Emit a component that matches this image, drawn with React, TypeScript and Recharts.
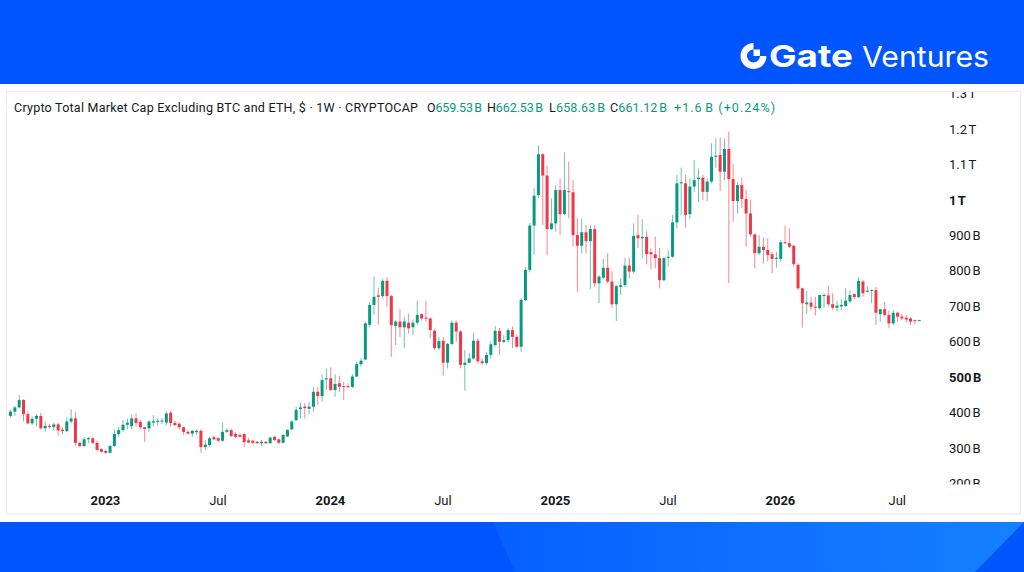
import React from 'react';
import { ComposedChart, Bar, XAxis, YAxis } from 'recharts';

// weekly candles, values in billions of USD
const opens = [
  391, 403, 415, 436, 396, 370, 383, 391, 356, 363, 360, 367, 352, 348, 375, 384, 315, 306, 325, 328,
  315, 297, 292, 287, 306, 340, 351, 366, 362, 384, 374, 359, 356, 372, 374, 376, 372, 400, 371, 369,
  359, 346, 341, 345, 349, 303, 309, 331, 328, 321, 346, 351, 340, 337, 340, 322, 321, 318, 314, 318,
  314, 332, 325, 315, 333, 353, 379, 410, 417, 411, 417, 459, 447, 494, 497, 464, 483, 475, 475, 473,
  502, 537, 550, 648, 704, 731, 729, 772, 729, 645, 657, 641, 654, 641, 654, 678, 668, 666, 631, 582,
  603, 541, 594, 654, 629, 535, 541, 553, 603, 545, 540, 563, 591, 631, 600, 605, 633, 614, 586, 718,
  803, 928, 1014, 1129, 1069, 918, 934, 1028, 960, 1025, 1022, 901, 871, 909, 884, 918, 765, 781, 809, 770,
  706, 755, 760, 815, 798, 901, 892, 896, 853, 847, 836, 774, 837, 840, 937, 1047, 1047, 960, 1038, 1059,
  1063, 1023, 1052, 1122, 1127, 1080, 1144, 1059, 997, 1042, 1003, 962, 903, 850, 868, 859, 847, 834, 834, 881,
  878, 871, 817, 751, 706, 711, 699, 695, 731, 731, 706, 696, 700, 701, 714, 735, 726, 770, 741, 744,
  746, 678, 692, 676, 652, 682, 671, 668, 666, 661, 659.53,
];
const highs = [
  408, 419, 450, 438, 403, 389, 396, 400, 375, 368, 372, 372, 360, 387, 410, 403, 318, 331, 332, 331,
  321, 300, 297, 309, 353, 360, 379, 384, 396, 398, 381, 360, 379, 393, 384, 384, 403, 406, 377, 372,
  360, 351, 351, 353, 353, 323, 332, 334, 332, 372, 356, 354, 346, 342, 342, 329, 323, 320, 323, 320,
  332, 334, 327, 340, 354, 379, 417, 428, 427, 431, 472, 472, 509, 525, 528, 509, 504, 487, 483, 509,
  544, 554, 657, 713, 784, 752, 777, 783, 732, 661, 693, 671, 679, 663, 716, 680, 716, 669, 635, 614,
  614, 597, 660, 660, 633, 577, 568, 626, 610, 553, 572, 602, 645, 639, 619, 638, 643, 621, 723, 812,
  935, 1033, 1155, 1132, 1097, 1005, 1042, 1061, 1135, 1108, 1056, 948, 948, 929, 929, 929, 788, 834, 850, 800,
  760, 779, 837, 837, 934, 958, 946, 913, 864, 897, 865, 840, 859, 958, 1071, 1091, 1071, 1061, 1113, 1089,
  1071, 1061, 1160, 1174, 1176, 1174, 1193, 1101, 1050, 1063, 1028, 1000, 906, 901, 894, 892, 854, 854, 887, 928,
  920, 873, 821, 753, 743, 727, 727, 733, 737, 758, 737, 716, 720, 751, 744, 737, 782, 774, 757, 748,
  755, 693, 713, 688, 690, 685, 679, 676, 669, 663, 662.53,
];
const lows = [
  387, 391, 412, 375, 368, 365, 361, 353, 346, 355, 351, 335, 340, 345, 370, 306, 302, 304, 314, 312,
  290, 287, 284, 285, 304, 332, 346, 353, 353, 361, 353, 318, 346, 361, 363, 368, 365, 361, 363, 353,
  337, 339, 332, 337, 287, 295, 304, 323, 318, 318, 342, 331, 328, 331, 303, 314, 312, 312, 306, 312,
  312, 320, 312, 314, 332, 351, 377, 384, 384, 396, 403, 422, 431, 464, 462, 445, 459, 436, 469, 470,
  500, 530, 549, 641, 676, 648, 724, 699, 558, 591, 614, 582, 624, 619, 647, 660, 657, 610, 577, 577,
  504, 525, 591, 600, 525, 462, 539, 551, 537, 535, 535, 553, 586, 563, 596, 599, 582, 582, 572, 715,
  796, 845, 1005, 930, 845, 915, 911, 901, 958, 948, 868, 741, 850, 850, 749, 755, 709, 777, 765, 696,
  659, 732, 755, 779, 793, 864, 836, 819, 805, 807, 751, 770, 812, 837, 920, 958, 922, 946, 1023, 994,
  1000, 997, 1047, 1091, 1025, 1056, 765, 939, 962, 977, 868, 897, 807, 845, 821, 826, 793, 809, 826, 876,
  865, 812, 746, 640, 678, 690, 674, 690, 695, 699, 690, 685, 690, 699, 709, 720, 723, 727, 739, 709,
  647, 657, 671, 638, 647, 657, 661, 654, 647, 650, 658.63,
];
const closes = [
  403, 415, 436, 396, 370, 383, 391, 356, 363, 360, 367, 350, 348, 375, 384, 315, 306, 325, 328, 315,
  295, 290, 287, 306, 340, 351, 366, 372, 384, 371, 359, 354, 375, 376, 377, 378, 398, 371, 365, 359,
  346, 341, 349, 349, 303, 310, 328, 325, 321, 346, 351, 334, 332, 332, 317, 316, 315, 314, 318, 314,
  330, 323, 315, 337, 351, 375, 408, 415, 413, 417, 459, 447, 492, 497, 464, 481, 473, 473, 473, 502,
  537, 547, 652, 704, 727, 727, 772, 729, 647, 657, 641, 657, 638, 654, 676, 666, 666, 633, 582, 602,
  541, 594, 654, 629, 535, 541, 553, 603, 545, 540, 563, 593, 631, 600, 605, 633, 614, 586, 718, 803,
  928, 1012, 1129, 1069, 918, 934, 1028, 960, 1028, 1022, 901, 871, 909, 884, 918, 765, 784, 809, 770, 706,
  757, 760, 815, 798, 899, 892, 896, 847, 847, 836, 774, 836, 840, 937, 1047, 1050, 958, 1038, 1056, 1063,
  1023, 1052, 1122, 1125, 1080, 1144, 1059, 997, 1042, 1003, 962, 903, 850, 868, 859, 845, 834, 837, 881, 878,
  868, 819, 751, 709, 711, 699, 696, 732, 732, 706, 696, 702, 704, 716, 732, 726, 772, 737, 744, 746,
  682, 692, 676, 652, 682, 671, 666, 663, 657, 659.53, 661.12,
];

const xTickWeeks = [22, 48, 74, 100, 126, 152, 178, 205];
const xTickLabels = ['2023', 'Jul', '2024', 'Jul', '2025', 'Jul', '2026', 'Jul'];

const yTicks = [200, 300, 400, 500, 600, 700, 800, 900, 1000, 1100, 1200, 1300];
const yTickLabels = [
  '200\u202FB', '300\u202FB', '400\u202FB', '500\u202FB', '600\u202FB', '700\u202FB',
  '800\u202FB', '900\u202FB', '1\u202FT', '1.1\u202FT', '1.2\u202FT', '1.3\u202FT',
];
const yBoldTicks = [500, 1000];

const UP = '#089981';
const DOWN = '#F23645';
const TEXT = '#131722';
const FONT = 'Roboto, "Noto Sans", sans-serif';

const data = opens.map((o, i) => ({
  week: i,
  open: o,
  high: highs[i],
  low: lows[i],
  close: closes[i],
  range: [lows[i], highs[i]],
}));

const last = data.length - 1;
const change = closes[last] - closes[last - 1];
const changePct = (change / closes[last - 1]) * 100;

const Candle = (props: any) => {
  const { x, y, width, height, payload } = props;
  if (!payload) return null;
  const { open, close, high, low } = payload;
  const top0 = height < 0 ? y + height : y;
  const h = Math.abs(height);
  const color = close >= open ? UP : DOWN;
  const span = high - low || 1;
  const toY = (v: number) => top0 + ((high - v) / span) * h;
  const cx = x + width / 2;
  const bodyTop = toY(Math.max(open, close));
  const bodyBottom = toY(Math.min(open, close));
  return (
    <g>
      <line x1={cx} x2={cx} y1={top0} y2={top0 + h} stroke={color} strokeOpacity={0.6} strokeWidth={1} />
      <rect x={cx - 1.5} y={bodyTop} width={3} height={Math.max(bodyBottom - bodyTop, 1)} fill={color} />
    </g>
  );
};

const renderXTick = (props: any) => {
  const { x, payload } = props;
  const k = xTickWeeks.indexOf(payload.value);
  const label = xTickLabels[k];
  return (
    <text x={x} y={505} textAnchor="middle" fontSize={13} fontFamily={FONT}
      fontWeight={label === 'Jul' ? 400 : 700} fill={TEXT}>
      {label}
    </text>
  );
};

const renderYTick = (props: any) => {
  const { y, payload } = props;
  const k = yTicks.indexOf(payload.value);
  return (
    <text x={949} y={y} dy={4.5} textAnchor="start" fontSize={13} fontFamily={FONT}
      fontWeight={yBoldTicks.includes(payload.value) ? 700 : 400} fill={TEXT}>
      {yTickLabels[k]}
    </text>
  );
};

const GateLogo = () => (
  <svg width={1024} height={84} style={{ position: 'absolute', left: 0, top: 0 }}>
    <path d="M753.5,43 A13,13 0 1,0 766.5,56 L760,56 A6.5,6.5 0 1,1 753.5,49.5 Z" fill="#fff" />
    <rect x={753.5} y={49.5} width={6.5} height={6.5} fill="#fff" />
    <text x={769} y={67} fontFamily='Inter, "Open Sans", sans-serif' fontWeight={700} fontSize={30}
      fill="#fff" textLength={84} lengthAdjust="spacingAndGlyphs">Gate</text>
    <text x={862} y={67} fontFamily='Inter, "Open Sans", sans-serif' fontWeight={400} fontSize={29}
      fill="#fff" textLength={127} lengthAdjust="spacingAndGlyphs">Ventures</text>
  </svg>
);

const Header = () => {
  const v = (n: number) => `${n.toFixed(2)}\u202FB`;
  const item = (left: number, w: number, letter: string, value: number) => (
    <text x={left} y={111.5} textLength={w} lengthAdjust="spacing">
      <tspan fill={TEXT}>{letter}</tspan>
      <tspan fill={UP}>{v(value)}</tspan>
    </text>
  );
  return (
    <svg width={1024} height={130} style={{ position: 'absolute', left: 0, top: 0 }}
      fontFamily={FONT} fontSize={12.5}>
      <text x={14} y={111.5} fill={TEXT} textLength={404} lengthAdjust="spacing">
        Crypto Total Market Cap Excluding BTC and ETH, $ · 1W · CRYPTOCAP
      </text>
      {item(427, 55, 'O', opens[last])}
      {item(487, 56, 'H', highs[last])}
      {item(549, 56, 'L', lows[last])}
      {item(610, 57, 'C', closes[last])}
      <text x={674} y={111.5} fill={UP} textLength={101} lengthAdjust="spacing">
        {`+${change.toFixed(1)}\u202FB (+${changePct.toFixed(2)}%)`}
      </text>
    </svg>
  );
};

export default function App() {
  return (
    <div style={{ position: 'absolute', left: 0, top: 0, width: 1024, height: 572, overflow: 'hidden', background: '#0055FF' }}>
      <svg width={1024} height={572} style={{ position: 'absolute', left: 0, top: 0 }}>
        <defs>
          <linearGradient id="swoosh" x1="0" x2="1" y1="0" y2="0">
            <stop offset="0%" stopColor="#0660FF" />
            <stop offset="100%" stopColor="#1580FF" />
          </linearGradient>
        </defs>
        <rect x={0} y={84} width={1024} height={438} fill="#ffffff" />
        <path d="M493,522 L1024,522 L975,572 L515,572 Z" fill="url(#swoosh)" />
      </svg>
      <GateLogo />
      <Header />
      <div style={{ position: 'absolute', left: 0, top: 0 }}>
        <ComposedChart width={1024} height={572} data={data}
          margin={{ top: 92, right: 6, bottom: 58, left: 6 }}>
          <XAxis dataKey="week" type="number" domain={[-0.97, 214.42]} ticks={xTickWeeks}
            allowDataOverflow interval={0} axisLine={false} tickLine={false} height={30} tick={renderXTick} />
          <YAxis orientation="right" type="number" domain={[198.9, 1304.7]} ticks={yTicks}
            allowDataOverflow interval={0} axisLine={false} tickLine={false} width={80} tick={renderYTick} />
          <Bar dataKey="range" barSize={3} shape={<Candle />} isAnimationActive={false} />
        </ComposedChart>
      </div>
      <svg width={1024} height={572} style={{ position: 'absolute', left: 0, top: 0, pointerEvents: 'none' }}>
        <rect x={940} y={84} width={80} height={7.5} fill="#ffffff" />
        <rect x={940} y={484.5} width={80} height={29} fill="#ffffff" />
        <rect x={6.5} y={91.5} width={1014} height={422.5} fill="none" stroke="#E9EAEC" strokeWidth={1} />
      </svg>
    </div>
  );
}
